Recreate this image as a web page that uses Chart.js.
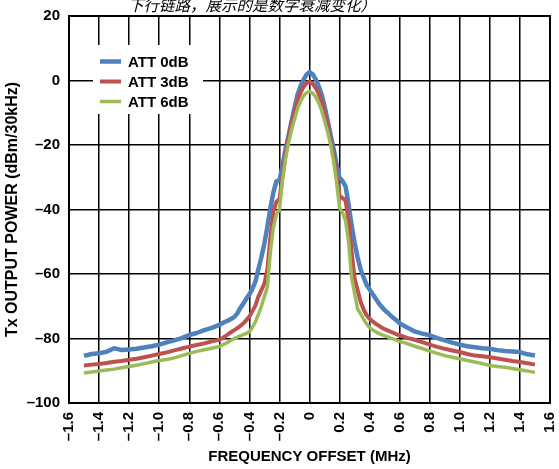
<!DOCTYPE html>
<html>
<head>
<meta charset="utf-8">
<script src="https://cdn.jsdelivr.net/npm/chart.js@4.4.1/dist/chart.umd.min.js"></script>
<style>
  html, body { margin: 0; padding: 0; background: #fff; }
  #wrap { position: relative; width: 559px; height: 469px; }
</style>
</head>
<body>
<div id="wrap"><canvas id="c"></canvas></div>
<script>
/* frequency offset (MHz) — finer steps round the carrier */
var freqMHz = [
  -1.5, -1.45, -1.4, -1.35, -1.3, -1.25, -1.2, -1.15, -1.1, -1.05, -1.0, -0.95, -0.9, -0.85, -0.8, -0.75, -0.7, -0.65,
  -0.6, -0.58, -0.56, -0.54, -0.52, -0.5, -0.48, -0.46, -0.44, -0.42,
  -0.4, -0.38, -0.36, -0.34, -0.32, -0.3, -0.28, -0.26, -0.24, -0.22,
  -0.2, -0.18, -0.16, -0.14, -0.12, -0.1, -0.08, -0.06, -0.04, -0.02,
  0,
  0.02, 0.04, 0.06, 0.08, 0.1, 0.12, 0.14, 0.16, 0.18, 0.2,
  0.22, 0.24, 0.26, 0.28, 0.3, 0.32, 0.34, 0.36, 0.38, 0.4,
  0.42, 0.44, 0.46, 0.48, 0.5, 0.52, 0.54, 0.56, 0.58, 0.6,
  0.65, 0.7, 0.75, 0.8, 0.85, 0.9, 0.95, 1.0, 1.05, 1.1, 1.15, 1.2, 1.25, 1.3, 1.35, 1.4, 1.45, 1.5
];

var att0dB = [
  -85.4, -84.8, -84.6, -84.1, -83.0, -83.6, -83.4, -83.2, -82.8, -82.4, -81.9, -81.2, -80.6, -79.9, -78.9, -78.3, -77.4, -76.7,
  -75.8, -75.3, -74.8, -74.4, -73.9, -73.3, -72.2, -70.5, -69.2, -67.6,
  -66.3, -64.6, -62.4, -58.5, -54.8, -50.5, -45.2, -39.5, -34.6, -31.3,
  -31.0, -26.5, -21.5, -17.2, -12.8, -8.6, -4.5, -1.8, 0.2, 1.8,
  2.6,
  2.0, 0.5, -1.6, -4.2, -8.0, -12.2, -16.8, -21.2, -26.0, -30.2,
  -31.2, -32.8, -38.5, -44.8, -50.3, -54.8, -58.6, -61.0, -63.4, -64.8,
  -66.2, -67.6, -69.0, -70.2, -71.2, -72.0, -72.9, -73.7, -74.4, -75.3,
  -76.6, -77.8, -78.5, -79.0, -79.9, -80.6, -81.3, -81.9, -82.4, -82.7, -83.0, -83.2, -83.6, -83.9, -84.0, -84.2, -84.9, -85.3
];

var att3dB = [
  -88.4, -88.1, -87.9, -87.6, -87.2, -87.0, -86.6, -86.3, -85.8, -85.3, -84.8, -84.3, -83.7, -83.1, -82.5, -82.0, -81.5, -80.9,
  -80.4, -79.9, -79.3, -78.6, -78.0, -77.4, -76.8, -76.1, -75.3, -74.3,
  -73.2, -71.5, -69.8, -67.0, -65.0, -63.0, -58.5, -48.5, -40.5, -37.6,
  -36.8, -29.8, -23.2, -18.0, -13.6, -9.8, -6.2, -3.8, -2.0, -0.8,
  -0.4,
  -0.9, -2.2, -4.0, -6.5, -10.0, -14.0, -18.6, -23.6, -29.5, -35.8,
  -36.5, -37.2, -43.5, -53.0, -61.5, -65.0, -68.6, -71.0, -72.8, -73.9,
  -74.7, -75.4, -76.0, -76.6, -77.1, -77.5, -77.9, -78.3, -78.7, -79.0,
  -79.8, -80.4, -81.1, -81.9, -82.6, -83.2, -83.7, -84.2, -84.8, -85.3, -85.5, -85.8, -86.2, -86.6, -87.0, -87.3, -87.7, -88.1
];

var att6dB = [
  -90.7, -90.4, -90.1, -89.8, -89.5, -89.1, -88.7, -88.3, -87.8, -87.3, -86.8, -86.5, -86.0, -85.3, -84.6, -84.0, -83.5, -83.0,
  -82.5, -82.0, -81.6, -81.1, -80.5, -80.0, -79.6, -79.2, -78.8, -78.4,
  -77.9, -76.6, -74.8, -72.5, -70.0, -67.0, -64.0, -53.0, -45.5, -41.5,
  -40.0, -31.0, -24.5, -19.5, -15.5, -12.0, -8.8, -6.5, -4.8, -3.8,
  -3.4,
  -3.9, -5.0, -6.8, -9.2, -12.4, -15.8, -19.8, -24.8, -31.5, -39.5,
  -41.0, -43.5, -50.0, -61.0, -66.0, -70.8, -72.4, -74.0, -75.5, -76.6,
  -77.3, -77.9, -78.4, -78.8, -79.2, -79.5, -79.9, -80.2, -80.5, -80.9,
  -81.6, -82.4, -83.1, -83.9, -84.6, -85.3, -85.8, -86.3, -86.8, -87.3, -87.8, -88.4, -88.7, -88.9, -89.3, -89.7, -90.1, -90.5
];

var seriesNames = ['ATT 0dB', 'ATT 3dB', 'ATT 6dB'];
var seriesColors = ['#4F81BD', '#C0504D', '#9BBB59'];
var seriesWidths = [4.5, 4, 3.5];

var xTickValues = [-1.6, -1.4, -1.2, -1.0, -0.8, -0.6, -0.4, -0.2, 0, 0.2, 0.4, 0.6, 0.8, 1.0, 1.2, 1.4, 1.6];
var xTickLabels = ['\u20131.6', '\u20131.4', '\u20131.2', '\u20131.0', '\u20130.8', '\u20130.6', '\u20130.4', '\u20130.2', '0',
                   '0.2', '0.4', '0.6', '0.8', '1.0', '1.2', '1.4', '1.6'];
var yTickValues = [-100, -80, -60, -40, -20, 0, 20];
var yTickLabels = ['\u2013100', '\u201380', '\u201360', '\u201340', '\u201320', '0', '20'];

var captionText = '下行链路，展示的是数字衰减变化）';
var xTitleText = 'FREQUENCY OFFSET (MHz)';
var yTitleText = 'Tx OUTPUT POWER (dBm/30kHz)';

var FONT = '"Liberation Sans", Arial, Helvetica, sans-serif';

function points(vals) {
  return freqMHz.map(function (f, i) { return { x: f, y: vals[i] }; });
}

var datasets = [att0dB, att3dB, att6dB].map(function (vals, i) {
  return {
    label: seriesNames[i],
    data: points(vals),
    borderColor: seriesColors[i],
    borderWidth: seriesWidths[i],
    pointRadius: 0,
    tension: 0,
    borderJoinStyle: 'round',
    fill: false,
    order: 2 - i   // later series sit on top, like the source plot
  };
});

/* frame, cut-off caption and the in-plot legend */
var decor = {
  id: 'decor',
  beforeDatasetsDraw: function (chart) {
    var a = chart.chartArea, ctx = chart.ctx;
    ctx.save();
    ctx.strokeStyle = '#000';
    ctx.lineWidth = 2;
    ctx.strokeRect(a.left, a.top, a.right - a.left, a.bottom - a.top);
    ctx.restore();
  },
  afterDraw: function (chart) {
    var ctx = chart.ctx;
    ctx.save();
    ctx.fillStyle = '#000';
    ctx.font = 'italic 15.5px "Noto Sans CJK SC", sans-serif';
    ctx.textAlign = 'center';
    ctx.textBaseline = 'alphabetic';
    ctx.fillText(captionText, 252, 11);

    ctx.fillStyle = '#fff';
    ctx.fillRect(93, 45, 110, 69);
    ctx.font = 'bold 15px ' + FONT;
    ctx.textAlign = 'left';
    ctx.textBaseline = 'middle';
    for (var i = 0; i < seriesNames.length; i++) {
      var y = 61.5 + i * 20;
      ctx.strokeStyle = seriesColors[i];
      ctx.lineWidth = seriesWidths[i];
      ctx.beginPath();
      ctx.moveTo(100, y);
      ctx.lineTo(121, y);
      ctx.stroke();
      ctx.fillStyle = '#000';
      ctx.fillText(seriesNames[i], 128, y + 1);
    }
    ctx.restore();
  }
};

new Chart(document.getElementById('c'), {
  type: 'line',
  data: { datasets: datasets },
  plugins: [decor],
  options: {
    responsive: true,
    maintainAspectRatio: false,
    animation: false,
    layout: { padding: { left: 0, right: 9, top: 16, bottom: 0 } },
    plugins: { legend: { display: false }, tooltip: { enabled: false } },
    scales: {
      x: {
        type: 'linear', min: -1.6, max: 1.6,
        afterBuildTicks: function (s) { s.ticks = xTickValues.map(function (v) { return { value: v }; }); },
        afterFit: function (s) { s.height = 66; s.paddingLeft = 0; s.paddingRight = 0; },
        grid: { color: '#000', lineWidth: 1.5, drawTicks: false },
        border: { display: false },
        ticks: {
          autoSkip: false, minRotation: 90, maxRotation: 90, padding: 9,
          color: '#000', font: { family: FONT, size: 15, weight: 'bold' },
          callback: function (v, i) { return xTickLabels[i]; }
        },
        title: { display: true, text: xTitleText, color: '#000',
                 font: { family: FONT, size: 15, weight: 'bold' }, padding: { top: 0, bottom: 3 } }
      },
      y: {
        type: 'linear', min: -100, max: 20,
        afterBuildTicks: function (s) { s.ticks = yTickValues.map(function (v) { return { value: v }; }); },
        afterFit: function (s) { s.width = 69; s.paddingTop = 0; s.paddingBottom = 0; },
        grid: { color: '#000', lineWidth: 1.5, drawTicks: false },
        border: { display: false },
        ticks: {
          padding: 9, color: '#000', font: { family: FONT, size: 15, weight: 'bold' },
          callback: function (v, i) { return yTickLabels[i]; }
        },
        title: { display: true, text: yTitleText, color: '#000',
                 font: { family: FONT, size: 16, weight: 'bold' }, padding: { top: 3, bottom: 0 } }
      }
    }
  }
});
</script>
</body>
</html>
